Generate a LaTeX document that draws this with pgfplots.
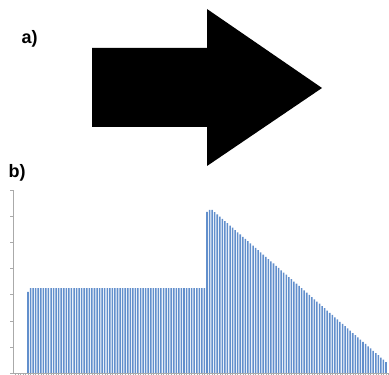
\documentclass[border=0pt]{standalone}
\usepackage{pgfplots}
\pgfplotsset{compat=1.18}
\usepackage{pgfplotstable}
\usepackage{fontspec}
\setmainfont{Liberation Sans}
\definecolor{barblue}{RGB}{98,143,204}
\definecolor{axgray}{RGB}{170,170,170}
\pgfplotstableread{
x y
0 3.10
1 3.25
2 3.25
3 3.25
4 3.25
5 3.25
6 3.25
7 3.25
8 3.25
9 3.25
10 3.25
11 3.25
12 3.25
13 3.25
14 3.25
15 3.25
16 3.25
17 3.25
18 3.25
19 3.25
20 3.25
21 3.25
22 3.25
23 3.25
24 3.25
25 3.25
26 3.25
27 3.25
28 3.25
29 3.25
30 3.25
31 3.25
32 3.25
33 3.25
34 3.25
35 3.25
36 3.25
37 3.25
38 3.25
39 3.25
40 3.25
41 3.25
42 3.25
43 3.25
44 3.25
45 3.25
46 3.25
47 3.25
48 3.25
49 3.25
50 3.25
51 3.25
52 3.25
53 3.25
54 3.25
55 3.25
56 3.25
57 3.25
58 3.25
59 3.25
60 3.25
61 3.25
62 3.25
63 3.25
64 3.25
65 3.25
66 3.25
67 3.25
68 3.25
69 3.25
70 6.16
71 6.24
72 6.24
73 6.15
74 6.07
75 5.98
76 5.90
77 5.81
78 5.73
79 5.64
80 5.56
81 5.47
82 5.38
83 5.30
84 5.21
85 5.13
86 5.04
87 4.96
88 4.87
89 4.79
90 4.70
91 4.61
92 4.53
93 4.44
94 4.36
95 4.27
96 4.19
97 4.10
98 4.02
99 3.93
100 3.84
101 3.76
102 3.67
103 3.59
104 3.50
105 3.42
106 3.33
107 3.25
108 3.16
109 3.07
110 2.99
111 2.90
112 2.82
113 2.73
114 2.65
115 2.56
116 2.48
117 2.39
118 2.30
119 2.22
120 2.13
121 2.05
122 1.96
123 1.88
124 1.79
125 1.71
126 1.62
127 1.53
128 1.45
129 1.36
130 1.28
131 1.19
132 1.11
133 1.02
134 0.94
135 0.85
136 0.76
137 0.68
138 0.59
139 0.51
140 0.42
}\bardata
\begin{document}
\begin{tikzpicture}
\useasboundingbox (0,0) rectangle (389pt,375pt);
% panel a: arrow
\begin{axis}[at={(0pt,0pt)}, anchor=south west, scale only axis,
  width=389pt, height=375pt, xmin=0, xmax=389, ymin=0, ymax=375,
  axis lines=none, clip=false]
\addplot[fill=black, draw=none] coordinates {
  (92,327) (207,327) (207,366) (322,287) (207,209) (207,248) (92,248)
} -- cycle;
\end{axis}
\node[anchor=base west, font=\bfseries\fontsize{18}{20}\selectfont] at (18pt,331pt) {a)};
\node[anchor=base west, font=\bfseries\fontsize{18}{20}\selectfont] at (5pt,197pt) {b)};
% panel b: bars
\begin{axis}[at={(13pt,2pt)}, anchor=south west, scale only axis,
  width=376pt, height=183pt,
  xmin=-5.87, xmax=141.17, ymin=0, ymax=7,
  axis x line=bottom, axis y line=left,
  axis line style={axgray, -, line width=0.6pt},
  tick style={axgray, line width=0.4pt},
  tick align=outside, major tick length=2.5pt,
  xtick={-5,...,141}, xticklabels={},
  ytick={0,1,...,7}, yticklabels={},
  ybar, bar width=0.6, clip=false]
\addplot[fill=barblue, draw=none] table[x=x, y=y] {\bardata};
\end{axis}
\end{tikzpicture}
\end{document}
